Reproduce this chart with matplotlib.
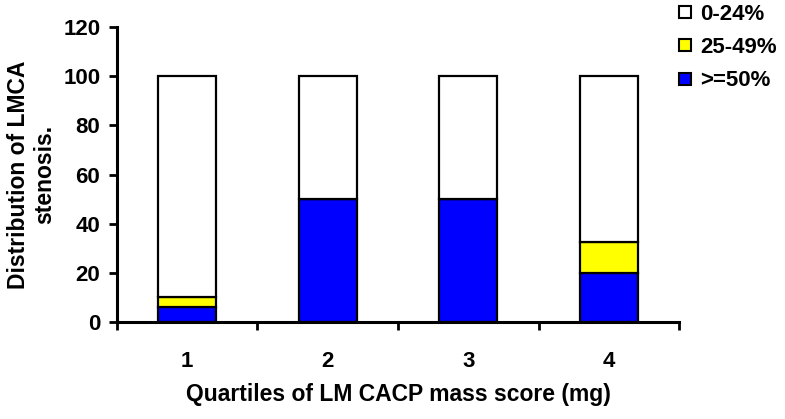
import matplotlib
matplotlib.use('Agg')
import matplotlib.pyplot as plt
from matplotlib.lines import Line2D

plt.rcParams['font.family'] = ['Liberation Sans', 'DejaVu Sans']
plt.rcParams['font.weight'] = 'bold'

# 数据
quartiles = ['1', '2', '3', '4']
severe = [6, 50, 50, 20]        # >=50%
moderate = [4, 0, 0, 12.5]      # 25-49%
mild = [90, 50, 50, 67.5]       # 0-24%
labels = ['0-24%', '25-49%', '>=50%']
colors = ['white', '#FFFF00', '#0000FF']

fig = plt.figure(figsize=(7.85, 4.19), dpi=100)
ax = fig.add_axes([0.149, 0.2315, 0.716, 0.704])

x = range(len(quartiles))
w = 0.41
ax.bar(x, severe, w, color=colors[2], edgecolor='black', linewidth=1.6)
ax.bar(x, moderate, w, bottom=severe, color=colors[1], edgecolor='black', linewidth=1.6)
bot = [a + b for a, b in zip(severe, moderate)]
ax.bar(x, mild, w, bottom=bot, color=colors[0], edgecolor='black', linewidth=1.6)

ax.set_xlim(-0.5, 3.5)
ax.set_ylim(0, 120)
ax.set_yticks(range(0, 121, 20))
ax.set_xticks([i + 0.5 for i in range(-1, 4)], minor=True)
ax.set_xticks(list(x))
ax.set_xticklabels(quartiles)
ax.tick_params(axis='x', which='major', length=0, pad=21, labelsize=16)
ax.tick_params(axis='x', which='minor', length=6, width=2, direction='out')
ax.tick_params(axis='y', length=6, width=2, direction='out', labelsize=16, pad=6)

for s in ['top', 'right']:
    ax.spines[s].set_visible(False)
for s in ['left', 'bottom']:
    ax.spines[s].set_linewidth(2.2)

ax.set_xlabel('Quartiles of LM CACP mass score (mg)', fontsize=16.5, fontweight='bold', labelpad=8)
ax.set_ylabel('Distribution of LMCA\nstenosis.', fontsize=16.5, fontweight='bold', labelpad=5)

handles = [Line2D([], [], marker='s', linestyle='none', markersize=9,
                  markerfacecolor=c, markeredgecolor='black', markeredgewidth=1.5)
           for c in colors]
fig.legend(handles, labels, loc='upper left', bbox_to_anchor=(0.849, 1.012),
           frameon=False, fontsize=16, handletextpad=0.2, labelspacing=0.55,
           handlelength=0.9, borderaxespad=0)

fig.savefig('out.png', dpi=100)
